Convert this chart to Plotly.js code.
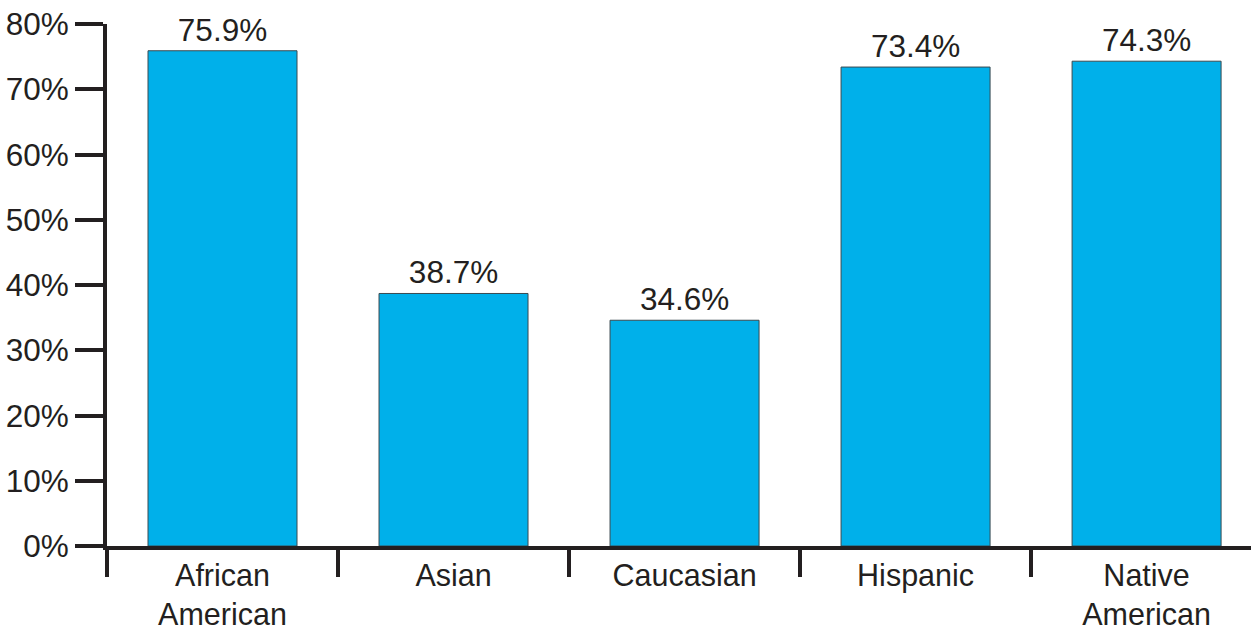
<!DOCTYPE html>
<html>
<head>
<meta charset="utf-8">
<script src="https://cdn.plot.ly/plotly-3.0.1.min.js"></script>
<style>
  html, body { margin: 0; padding: 0; background: #ffffff; }
  #chart { width: 1251px; height: 627px; }
</style>
</head>
<body>
<div id="chart"></div>
<script>
// Share of students by group
const categories = ['African<br>American', 'Asian', 'Caucasian', 'Hispanic', 'Native<br>American'];
const percents = [75.9, 38.7, 34.6, 73.4, 74.3];
const yTickVals = [0, 10, 20, 30, 40, 50, 60, 70, 80];
const yTickText = ['0%', '10%', '20%', '30%', '40%', '50%', '60%', '70%', '80%'];

const ink = '#231f20';
const family = 'Liberation Sans, Arial, Helvetica, sans-serif';
const font = { family: family, size: 31.5, color: ink };
const catFont = { family: family, size: 30.5, color: ink };

const trace = {
  type: 'bar',
  x: categories,
  y: percents,
  marker: { color: '#00b0ea', line: { color: '#3a4a50', width: 1 } },
  text: percents.map(v => v.toFixed(1) + '%'),
  textposition: 'outside',
  textfont: font,
  cliponaxis: false,
  hoverinfo: 'none'
};

const layout = {
  width: 1251,
  height: 627,
  margin: { l: 107, r: 0, t: 24, b: 81 },
  paper_bgcolor: '#ffffff',
  plot_bgcolor: '#ffffff',
  showlegend: false,
  bargap: 0.355,
  font: font,
  xaxis: {
    type: 'category',
    range: [-0.5, 4.452],
    showline: true,
    linecolor: ink,
    linewidth: 4,
    ticks: 'outside',
    tickson: 'boundaries',
    ticklen: 27,
    tickwidth: 4,
    tickcolor: ink,
    ticklabelstandoff: -1,
    showgrid: false,
    zeroline: false,
    tickfont: catFont
  },
  yaxis: {
    range: [0, 80],
    tickvals: yTickVals,
    ticktext: yTickText,
    showline: true,
    linecolor: ink,
    linewidth: 4,
    ticks: 'outside',
    ticklen: 28,
    tickwidth: 4,
    tickcolor: ink,
    showgrid: false,
    zeroline: false,
    tickfont: font
  }
};

Plotly.newPlot('chart', [trace], layout, { staticPlot: true, displayModeBar: false });
</script>
</body>
</html>
